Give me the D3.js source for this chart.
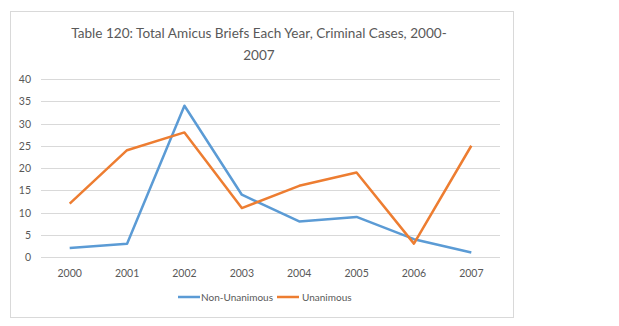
<!DOCTYPE html>
<html><head><meta charset="utf-8">
<script src="https://cdn.jsdelivr.net/npm/d3@7"></script>
<style>body{margin:0;background:#fff;}svg{display:block;font-family:Lato,"Open Sans",sans-serif;}</style>
</head><body><svg id="c" width="619" height="326"></svg>
<script>
const years = ["2000","2001","2002","2003","2004","2005","2006","2007"];
const nonUnanimous = [2,3,34,14,8,9,4,1];
const unanimous = [12,24,28,11,16,19,3,25];
const yTicks = [0,5,10,15,20,25,30,35,40];
const seriesNames = ["Non-Unanimous","Unanimous"];
const colors = ["#5B9BD5","#ED7D31"];

const svg = d3.select("#c");
svg.append("rect").attr("x",10.5).attr("y",11.5).attr("width",503).attr("height",306)
  .attr("fill","#fff").attr("stroke","#d9d9d9");

const x = d3.scaleBand().domain(years).range([41,500]);
const y = d3.scaleLinear().domain([0,40]).range([257,79]);

svg.append("g").selectAll("line").data(yTicks).join("line")
  .attr("x1",41).attr("x2",500).attr("y1",d=>Math.round(y(d))+0.5).attr("y2",d=>Math.round(y(d))+0.5)
  .attr("stroke","#d9d9d9");

svg.append("g").selectAll("text").data(yTicks).join("text")
  .attr("x",31).attr("y",d=>y(d)+4).attr("text-anchor","end")
  .attr("font-size",10.5).attr("fill","#595959").text(d=>d);

svg.append("g").selectAll("text").data(years).join("text")
  .attr("x",d=>x(d)+x.bandwidth()/2).attr("y",277).attr("text-anchor","middle")
  .attr("font-size",10.5).attr("fill","#595959").text(d=>d);

const line = d3.line().x((d,i)=>x(years[i])+x.bandwidth()/2).y(d=>y(d));
[nonUnanimous, unanimous].forEach((s,i)=>{
  svg.append("path").datum(s).attr("d",line).attr("fill","none")
    .attr("stroke",colors[i]).attr("stroke-width",2.5).attr("stroke-linejoin","round");
});

const title = svg.append("text").attr("text-anchor","middle").attr("font-size",15).attr("fill","#595959");
const t1 = title.append("tspan").attr("x",259).attr("y",38).text("Table 120: Total Amicus Briefs Each Year, Criminal Cases, 2000-");
title.append("tspan").attr("x",259).attr("y",60).text("2007");
const w = t1.node().getComputedTextLength();
if (w > 0) title.attr("font-size", 15 * 376 / w);

const leg = [{x:178,tx:201},{x:277,tx:302}];
seriesNames.forEach((n,i)=>{
  svg.append("line").attr("x1",leg[i].x).attr("x2",leg[i].x+22).attr("y1",297).attr("y2",297)
    .attr("stroke",colors[i]).attr("stroke-width",2.5);
  svg.append("text").attr("x",leg[i].tx).attr("y",301).attr("font-size",10).attr("fill","#595959").text(n);
});
</script></body></html>
